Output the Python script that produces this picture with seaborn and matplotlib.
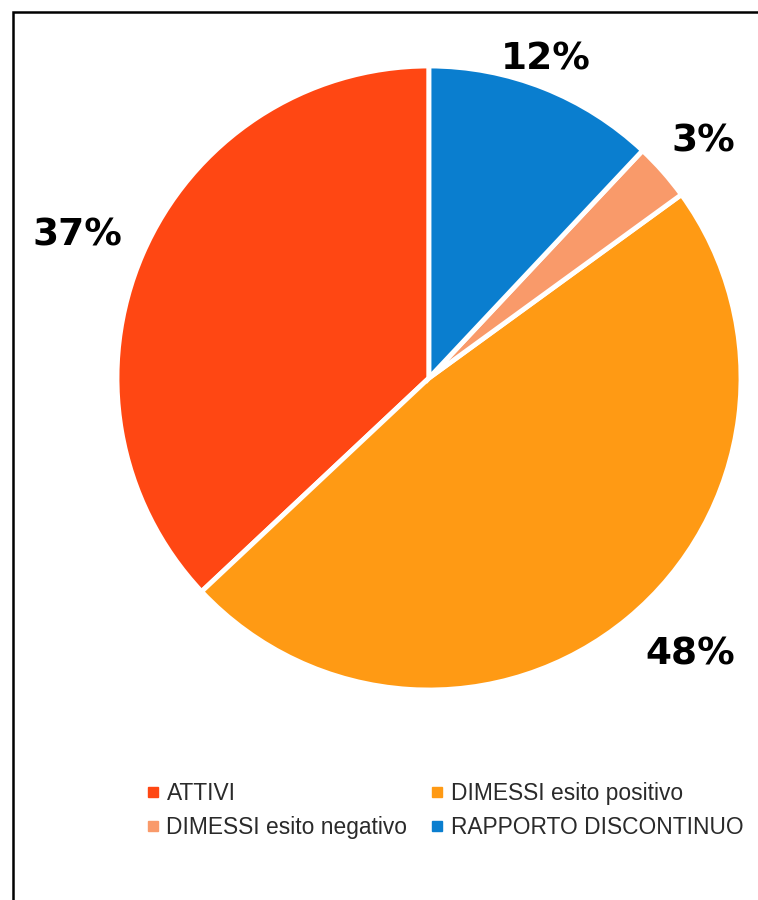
import matplotlib
matplotlib.use("Agg")
import numpy as np
import matplotlib.pyplot as plt
from matplotlib.lines import Line2D
from matplotlib.patches import Rectangle
from matplotlib.transforms import ScaledTranslation
import seaborn as sns

categories = ["ATTIVI", "DIMESSI esito positivo", "DIMESSI esito negativo", "RAPPORTO DISCONTINUO"]
shares = [37, 48, 3, 12]
colors = ["#FF4713", "#FF9A14", "#F99A6A", "#0A7ECF"]

sns.set_theme(style="white")
plt.rcParams["font.family"] = ["DejaVu Sans"]

W, H = 758, 900
fig = plt.figure(figsize=(W / 100, H / 100), dpi=100)
fig.patch.set_facecolor("white")

# pie centre and radius in pixels
cx, cy, r = 429, 378, 312
ax = fig.add_axes([(cx - r) / W, (H - cy - r) / H, 2 * r / W, 2 * r / H])
palette = sns.color_palette(colors)
wedges, texts, autotexts = ax.pie(
    shares,
    colors=palette,
    startangle=90,
    counterclock=True,
    autopct="%.0f%%",
    pctdistance=1.18,
    wedgeprops=dict(edgecolor="white", linewidth=3.5),
    textprops=dict(fontsize=27, fontweight="bold", color="black"),
    radius=1.0,
)
# place each percentage label just outside its wedge
label_dist = [1.22, 1.21, 1.17, 1.10]
label_turn = [0.7, 4.2, -0.1, 1.8]  # degrees away from the wedge bisector
nudge = ax.transData + ScaledTranslation(0, -3 / 72, fig.dpi_scale_trans)
for w, t, d, a in zip(wedges, autotexts, label_dist, label_turn):
    ang = np.deg2rad((w.theta1 + w.theta2) / 2 + a)
    t.set_position((d * np.cos(ang), d * np.sin(ang)))
    t.set_transform(nudge)
ax.set_xlim(-1, 1)
ax.set_ylim(-1, 1)
ax.set_aspect("auto")
ax.axis("off")

# legend laid out row by row in two columns
order = [0, 2, 1, 3]
handles = [
    Line2D([], [], marker="s", linestyle="none", markersize=7,
           markerfacecolor=palette[i], markeredgecolor=palette[i])
    for i in order
]
labels = [categories[i] for i in order]
leg = fig.legend(
    handles, labels, ncol=2, loc="upper left",
    bbox_to_anchor=(146 / W, 1 - 782 / H),
    frameon=False, handlelength=0.6, handletextpad=0.3,
    columnspacing=1.0, labelspacing=0.5, borderpad=0, borderaxespad=0,
    prop=dict(family="Liberation Sans", size=16.4),
)
for t in leg.get_texts():
    t.set_color("#2a2a2a")

# outer frame
fig.add_artist(Rectangle((13 / W, -0.1), 1.5, (H - 12) / H + 0.1,
                         transform=fig.transFigure, fill=False,
                         edgecolor="black", linewidth=1.8))

fig.savefig("out.png", dpi=100, facecolor="white")
